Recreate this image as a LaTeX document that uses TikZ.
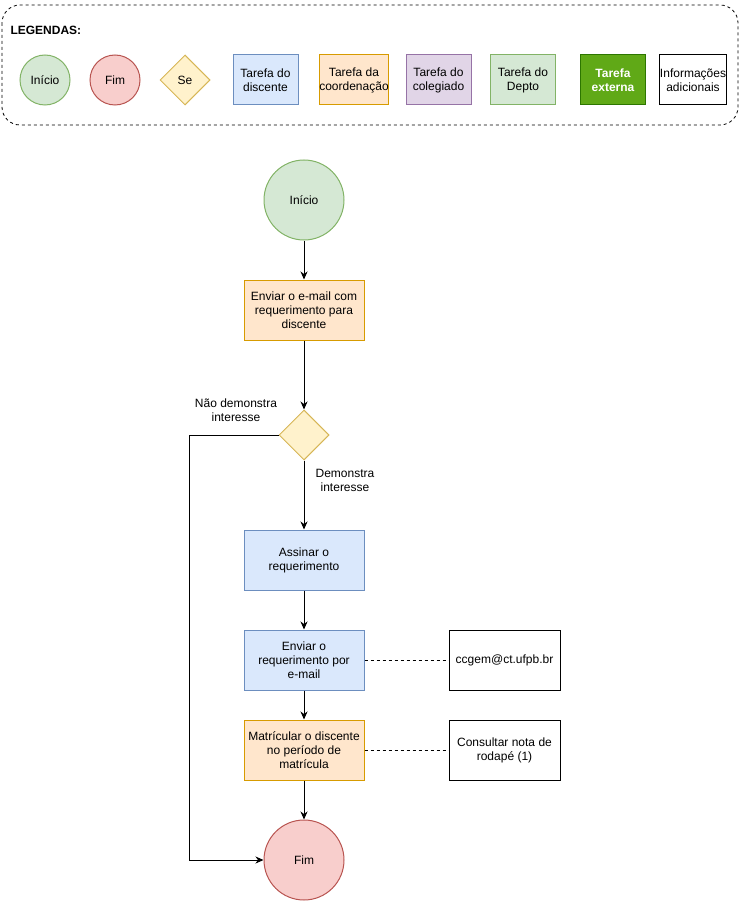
\documentclass[tikz,border=0pt]{standalone}
\usepackage{fontspec}
\setmainfont{Liberation Sans}
\usetikzlibrary{shapes.geometric,arrows.meta}

\definecolor{verdeF}{HTML}{D5E8D4}\definecolor{verdeL}{HTML}{82B366}
\definecolor{vermF}{HTML}{F8CECC}\definecolor{vermL}{HTML}{B85450}
\definecolor{amarF}{HTML}{FFF2CC}\definecolor{amarL}{HTML}{D6B656}
\definecolor{azulF}{HTML}{DAE8FC}\definecolor{azulL}{HTML}{6C8EBF}
\definecolor{laraF}{HTML}{FFE6CC}\definecolor{laraL}{HTML}{D79B00}
\definecolor{roxoF}{HTML}{E1D5E7}\definecolor{roxoL}{HTML}{9673A6}
\definecolor{extF}{HTML}{60A917}\definecolor{extL}{HTML}{2D7600}

\begin{document}
\begin{tikzpicture}[x=1pt,y=-1pt,line width=1pt,
            every node/.style={font=\fontsize{12}{14}\selectfont,align=center,inner sep=0pt},
            bola/.style={draw,circle,minimum size=80pt},
            se/.style={draw=amarL,fill=amarF,diamond,minimum width=50pt,minimum height=50pt},
            tarefa/.style={draw,rectangle,minimum width=120pt,minimum height=60pt},
            legtarefa/.style={draw,rectangle,minimum width=65pt,minimum height=50pt},
            info/.style={draw=black,rectangle,minimum width=111pt,minimum height=60pt},
            arr/.style={-{Stealth[length=8pt,width=7pt,inset=2.5pt]}}]
            \useasboundingbox (0,0) rectangle (741,901);

            % legenda
            \draw[dashed,line width=0.8pt,rounded corners=18pt] (2,5) rectangle (738,125);
            \node[anchor=west,font=\fontsize{12}{14}\selectfont\bfseries] (leg) at (10,30) {LEGENDAS:};
            \node[bola,minimum size=50pt,draw=verdeL,fill=verdeF] (lini) at (45,80) {Início};
            \node[bola,minimum size=50pt,draw=vermL,fill=vermF] (lfim) at (115,80) {Fim};
            \node[se] (lse) at (185,80) {Se};
            \node[legtarefa,draw=azulL,fill=azulF] (ldis) at (265.5,80) {Tarefa do\\discente};
            \node[legtarefa,draw=laraL,fill=laraF] (lcoo) at (354,80) {Tarefa da\\coordenação};
            \node[legtarefa,draw=roxoL,fill=roxoF] (lcol) at (438.5,80) {Tarefa do\\colegiado};
            \node[legtarefa,draw=verdeL,fill=verdeF] (ldep) at (523,80) {Tarefa do\\Depto};
            \node[legtarefa,draw=extL,fill=extF,text=white,font=\fontsize{12}{14}\selectfont\bfseries] (lext) at (613,80) {Tarefa\\externa};
            \node[legtarefa,draw=black] (linf) at (693,80) {Informações\\adicionais};

            % fluxo
            \node[bola,draw=verdeL,fill=verdeF] (ini) at (304,200) {Início};
            \node[tarefa,draw=laraL,fill=laraF] (t1) at (304,310) {Enviar o e-mail com\\requerimento para\\discente};
            \node[se] (d1) at (304,435) {};
            \node[tarefa,draw=azulL,fill=azulF] (t2) at (304,560) {Assinar o\\requerimento};
            \node[tarefa,draw=azulL,fill=azulF] (t3) at (304,660) {Enviar o\\requerimento por\\e-mail};
            \node[tarefa,draw=laraL,fill=laraF] (t4) at (304,750) {Matrícular o discente\\no período de\\matrícula};
            \node[bola,draw=vermL,fill=vermF] (fim) at (304,860) {Fim};
            \node[info] (i1) at (504.5,660) {ccgem@ct.ufpb.br};
            \node[info] (i2) at (504.5,750) {Consultar nota de\\rodapé (1)};

            \node (lnao) at (236,410) {Não demonstra\\interesse};
            \node (lsim) at (345,480) {Demonstra\\interesse};

            \begin{scope}[arr]
                \draw (ini) -- (t1);
                \draw (t1) -- (d1);
                \draw (d1) -- (t2);
                \draw (t2) -- (t3);
                \draw (t3) -- (t4);
                \draw (t4) -- (fim);
                \draw (d1.west) -- ++(-89,0) |- (fim.west);
            \end{scope}
            \draw[dashed] (t3) -- (i1);
            \draw[dashed] (t4) -- (i2);
        \end{tikzpicture}
\end{document}
